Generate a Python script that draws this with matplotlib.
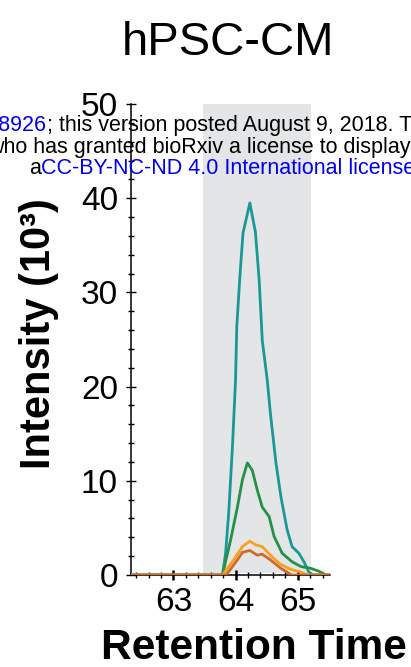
import numpy as np
import matplotlib.pyplot as plt

plt.rcParams['font.family'] = ['Liberation Sans', 'DejaVu Sans']

# retention time (min) and intensity (x10^3) for the four traces
rt_teal = [62.3, 63.79, 63.84, 63.89, 63.95, 64.0, 64.02, 64.07, 64.12, 64.23, 64.32,
           64.38, 64.43, 64.51, 64.56, 64.65, 64.73, 64.83, 64.91, 65.02, 65.1, 65.18, 65.25, 65.52]
int_teal = [0, 0, 2.3, 6.6, 13.6, 20.7, 26.4, 31.7, 36.3, 39.5, 36.4,
            31.3, 24.9, 20.7, 17.2, 11.9, 8.3, 4.8, 3.0, 2.3, 1.4, 0.3, 0, 0]

rt_green = [62.3, 63.79, 63.92, 64.03, 64.11, 64.19, 64.27, 64.35, 64.43, 64.54,
            64.62, 64.75, 64.91, 65.05, 65.21, 65.34, 65.45, 65.52]
int_green = [0, 0, 3.7, 7.2, 10.1, 11.9, 11.1, 9.0, 7.2, 6.2,
             4.1, 2.3, 1.4, 0.9, 0.7, 0.4, 0, 0]

rt_orange = [62.3, 63.79, 63.97, 64.11, 64.23, 64.32, 64.43, 64.59, 64.73, 64.89, 65.05, 65.15, 65.52]
int_orange = [0, 0, 1.6, 3.0, 3.6, 3.2, 3.0, 1.9, 1.1, 0.6, 0.3, 0, 0]

rt_brown = [62.3, 63.85, 64.03, 64.11, 64.23, 64.35, 64.43, 64.56, 64.73, 64.83, 64.9, 65.52]
int_brown = [0, 0, 1.6, 2.4, 2.6, 2.1, 2.2, 1.6, 0.7, 0.3, 0, 0]

window = (63.48, 65.21)

fig = plt.figure(figsize=(4.11, 6.67), dpi=100)
ax = fig.add_axes([0.319, 0.138, 0.484, 0.706])

ax.axvspan(window[0], window[1], ymin=0.005, ymax=1.0, color='#e4e5e7', lw=0, zorder=0)

ax.plot(rt_teal, int_teal, color='#1a9896', lw=2, zorder=3)
ax.plot(rt_green, int_green, color='#239147', lw=2, zorder=4)
ax.plot(rt_orange, int_orange, color='#f7a21d', lw=2, zorder=5)
ax.plot(rt_brown, int_brown, color='#d06a2a', lw=2, zorder=6)

ax.set_xlim(62.32, 65.52)
ax.set_ylim(0, 50)
ax.spines['right'].set_color('none')
ax.spines['top'].set_color('none')
ax.spines['left'].set_linewidth(1.1)
ax.spines['bottom'].set_linewidth(1.1)

ax.set_xticks([63, 64, 65])
ax.set_xticks(np.arange(62.4, 65.6, 0.2), minor=True)
ax.set_yticks([0, 10, 20, 30, 40, 50])
ax.set_yticks(np.arange(0, 51, 2), minor=True)
ax.tick_params(axis='x', which='major', direction='inout', length=7, width=1.8, labelsize=24, pad=5)
ax.tick_params(axis='x', which='minor', direction='inout', length=4, width=1)
ax.tick_params(axis='y', which='major', direction='inout', length=7, width=1, labelsize=24, pad=6)
ax.tick_params(axis='y', which='minor', direction='inout', length=5, width=1)

ax.set_ylabel('Intensity (10³)', fontsize=30, fontweight='bold')
ax.yaxis.set_label_coords(-0.365, 0.512)
ax.set_xlabel('Retention Time', fontsize=30.5, fontweight='bold')
ax.xaxis.set_label_coords(0.615, -0.112)

fig.text(0.555, 1 - 55 / 667, 'hPSC-CM', fontsize=34, ha='center', va='baseline')

# preprint header running across the panel
fs = 15.5
fig.text(47 / 411, 1 - 131 / 667, 'https://doi.org/10.1101/388926', color='#0000ee',
         fontsize=fs, ha='right', va='baseline')
fig.text(47 / 411, 1 - 131 / 667,
         '; this version posted August 9, 2018. The copyright holder for this preprint',
         fontsize=fs, ha='left', va='baseline')
fig.text(-12 / 411, 1 - 153 / 667,
         'who has granted bioRxiv a license to display the preprint in perpetuity.',
         fontsize=fs, ha='left', va='baseline')
fig.text(29 / 411, 1 - 174 / 667, 'a', fontsize=fs, ha='left', va='baseline')
fig.text(41 / 411, 1 - 174 / 667, 'CC-BY-NC-ND 4.0 International license.', color='#0000ee',
         fontsize=fs, ha='left', va='baseline')

fig.savefig('out.png', dpi=100)
